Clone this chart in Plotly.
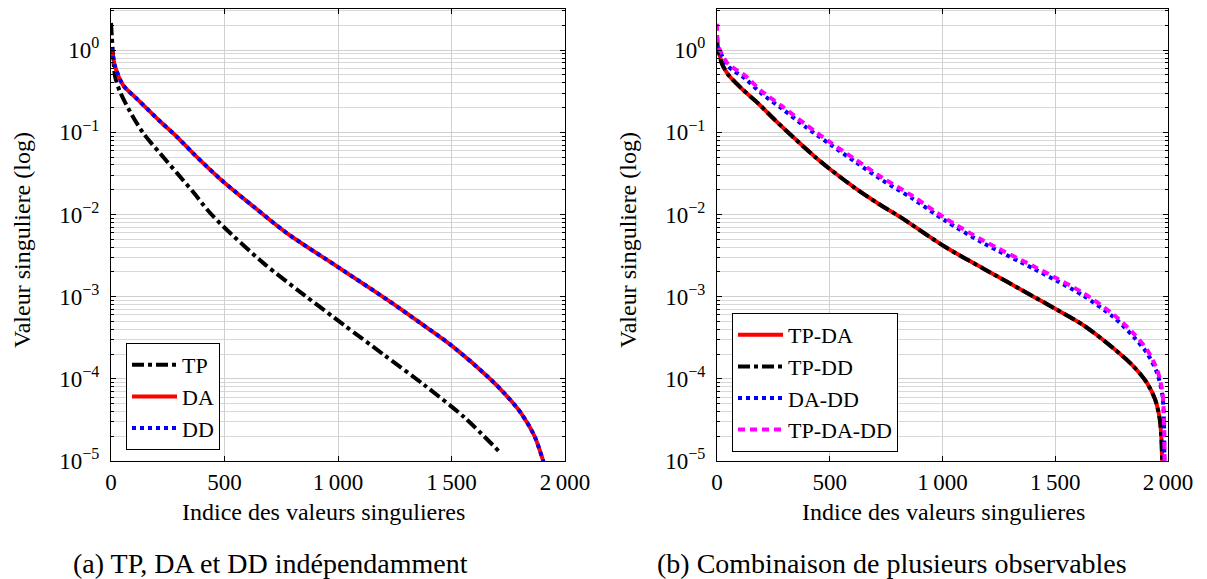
import plotly.graph_objects as go

# ---------------- data ----------------
# (a) individual observables
tp_x = [0, 4, 10, 18, 37, 84, 142, 217, 292, 363, 429, 496, 673, 850, 1026, 1203, 1380, 1557, 1719]
tp_y = [2.14, 1.41, 0.794, 0.479, 0.324, 0.178, 0.0977, 0.0550, 0.0316, 0.0186, 0.0110,
        0.00708, 0.00254, 0.00105, 0.000452, 0.000195, 8.41e-5, 3.39e-5, 1.23e-5]

da_x = [0, 7, 18, 54, 113, 217, 292, 363, 482, 629, 776, 1000, 1218, 1365, 1498, 1660,
        1734, 1807, 1866, 1903, 1915]
da_y = [1.05, 0.891, 0.631, 0.372, 0.257, 0.135, 0.0871, 0.0550, 0.0269, 0.0124, 0.00589,
        0.00229, 0.000912, 0.000473, 0.000257, 0.000106, 6.61e-5, 3.80e-5, 2.00e-5, 1.02e-5, 7.9e-6]

dd_x = [0, 7, 18, 54, 113, 217, 292, 363, 482, 629, 776, 1000, 1218, 1365, 1498, 1660,
        1734, 1807, 1866, 1903, 1915]
dd_y = [1.05, 0.891, 0.631, 0.372, 0.257, 0.135, 0.0871, 0.0550, 0.0269, 0.0124, 0.00589,
        0.00229, 0.000912, 0.000473, 0.000257, 0.000106, 6.61e-5, 3.80e-5, 2.00e-5, 1.02e-5, 7.9e-6]

# (b) combinations
tpda_x = [0, 9, 21, 50, 110, 183, 257, 346, 435, 506, 613, 716, 812, 1009, 1182, 1404,
          1508, 1626, 1759, 1848, 1908, 1944, 1964, 1971, 1975]
tpda_y = [1.07, 0.933, 0.692, 0.501, 0.339, 0.224, 0.141, 0.0832, 0.0501, 0.0347, 0.0209,
          0.0135, 0.00933, 0.00407, 0.00219, 0.00100, 0.000692, 0.000447, 0.000234,
          0.000141, 8.81e-5, 5.50e-5, 3.16e-5, 1.82e-5, 7.94e-6]

tpdd_x = [0, 4, 9, 21, 50, 110, 183, 257, 346, 435, 506, 613, 716, 812, 1009, 1182, 1404,
          1508, 1626, 1759, 1848, 1908, 1944, 1964, 1971, 1975]
tpdd_y = [1.51, 1.05, 0.933, 0.692, 0.501, 0.339, 0.224, 0.141, 0.0832, 0.0501, 0.0347,
          0.0209, 0.0135, 0.00933, 0.00407, 0.00219, 0.00100, 0.000692, 0.000447, 0.000234,
          0.000141, 8.81e-5, 5.50e-5, 3.16e-5, 1.82e-5, 7.94e-6]

dadd_x = [0, 13, 50, 124, 198, 287, 391, 506, 613, 731, 864, 1009, 1182, 1404, 1508, 1626,
          1759, 1848, 1908, 1952, 1974, 1981, 1984]
dadd_y = [1.12, 0.955, 0.631, 0.452, 0.295, 0.195, 0.117, 0.0698, 0.0437, 0.0263, 0.0158,
          0.00851, 0.00447, 0.00219, 0.00155, 0.00102, 0.000562, 0.000324, 0.000204,
          0.000117, 6.61e-5, 3.80e-5, 7.94e-6]

tpdadd_x = [0, 3, 13, 50, 124, 198, 287, 391, 506, 613, 731, 864, 1009, 1182, 1404, 1508,
            1626, 1759, 1848, 1908, 1952, 1974, 1981, 1985]
tpdadd_y = [2.09, 1.26, 1.0, 0.676, 0.490, 0.316, 0.209, 0.126, 0.0741, 0.0468, 0.0282,
            0.0170, 0.00912, 0.00479, 0.00234, 0.00166, 0.00110, 0.000603, 0.000355,
            0.000224, 0.000129, 7.24e-5, 4.17e-5, 7.94e-6]

x_tickvals = [0, 500, 1000, 1500, 2000]
x_ticktext = ["0", "500", "1\u2009000", "1\u2009500", "2\u2009000"]
y_tickvals = [1e-5, 1e-4, 1e-3, 1e-2, 1e-1, 1]
y_ticktext = ["10<sup>\u22125</sup>", "10<sup>\u22124</sup>", "10<sup>\u22123</sup>",
              "10<sup>\u22122</sup>", "10<sup>\u22121</sup>", "10<sup>0</sup>"]
y_minor = [k * d for d in [1e-5, 1e-4, 1e-3, 1e-2, 1e-1, 1] for k in range(2, 10)]

FONT = "Times New Roman, Liberation Serif, Tinos, DejaVu Serif, serif"
W, H = 1207, 579

fig = go.Figure()

def add(x, y, name, color, dash, xa, ya, legend):
    fig.add_trace(go.Scatter(x=x, y=y, mode="lines", name=name,
                             line=dict(color=color, width=4, dash=dash,
                                       shape="spline", smoothing=0.8),
                             xaxis=xa, yaxis=ya, legend=legend))

add(tp_x, tp_y, "TP", "black", "dashdot", "x", "y", "legend")
add(da_x, da_y, "DA", "red", "solid", "x", "y", "legend")
add(dd_x, dd_y, "DD", "blue", "dot", "x", "y", "legend")

add(tpda_x, tpda_y, "TP-DA", "red", "solid", "x2", "y2", "legend2")
add(tpdd_x, tpdd_y, "TP-DD", "black", "dashdot", "x2", "y2", "legend2")
add(dadd_x, dadd_y, "DA-DD", "blue", "dot", "x2", "y2", "legend2")
add(tpdadd_x, tpdadd_y, "TP-DA-DD", "magenta", "7px,5px", "x2", "y2", "legend2")

def px_x(p):
    return p / W

def px_y(p):
    return (H - p) / H

ydom = [px_y(461), px_y(9)]

xaxis_common = dict(range=[0, 2000], tickvals=x_tickvals, ticktext=x_ticktext,
                    showline=True, linecolor="black", linewidth=1, mirror="allticks",
                    ticks="inside", ticklen=5, tickcolor="black",
                    showgrid=True, gridcolor="#d0d0d0", gridwidth=1, zeroline=False,
                    tickfont=dict(family=FONT, size=23, color="black"))
yaxis_common = dict(type="log", range=[-5, 0.5], tickvals=y_tickvals, ticktext=y_ticktext,
                    showline=True, linecolor="black", linewidth=1, mirror="allticks",
                    ticks="inside", ticklen=5, tickcolor="black",
                    showgrid=True, gridcolor="#d0d0d0", gridwidth=1, zeroline=False,
                    minor=dict(tickmode="array", tickvals=y_minor, ticks="inside", ticklen=3,
                               tickcolor="black", showgrid=True, gridcolor="#d8d8d8", gridwidth=1),
                    tickfont=dict(family=FONT, size=23, color="black"),
                    ticklabelstandoff=6)

fig.update_layout(
    width=W, height=H,
    margin=dict(l=0, r=0, t=0, b=0, autoexpand=False),
    paper_bgcolor="white", plot_bgcolor="white",
    font=dict(family=FONT, color="black", size=22),
    xaxis=dict(domain=[px_x(111), px_x(565)], anchor="y", **xaxis_common),
    yaxis=dict(domain=ydom, anchor="x", **yaxis_common),
    xaxis2=dict(domain=[px_x(717), px_x(1168)], anchor="y2", **xaxis_common),
    yaxis2=dict(domain=ydom, anchor="x2", **yaxis_common),
    legend=dict(x=px_x(126), y=px_y(343), xanchor="left", yanchor="top",
                bordercolor="black", borderwidth=1, bgcolor="white",
                font=dict(family=FONT, size=22, color="black"), itemwidth=45),
    legend2=dict(x=px_x(732), y=px_y(313), xanchor="left", yanchor="top",
                 bordercolor="black", borderwidth=1, bgcolor="white",
                 font=dict(family=FONT, size=22, color="black"), itemwidth=45),
)

ann = [
    dict(text="Valeur singuliere (log)", x=px_x(22), y=px_y(240), textangle=-90, size=24),
    dict(text="Valeur singuliere (log)", x=px_x(628), y=px_y(240), textangle=-90, size=24),
    dict(text="Indice des valeurs singulieres", x=px_x(323), y=px_y(512), textangle=0, size=24),
    dict(text="Indice des valeurs singulieres", x=px_x(943), y=px_y(512), textangle=0, size=24),
    dict(text="(a) TP, DA et DD indépendamment", x=px_x(270), y=px_y(563), textangle=0, size=28),
    dict(text="(b) Combinaison de plusieurs observables", x=px_x(892), y=px_y(563), textangle=0, size=28),
]
for a in ann:
    fig.add_annotation(text=a["text"], x=a["x"], y=a["y"], xref="paper", yref="paper",
                       xanchor="center", yanchor="middle", showarrow=False,
                       textangle=a["textangle"],
                       font=dict(family=FONT, size=a["size"], color="black"))

fig.write_html("out.html",
               config={"displayModeBar": False},
               post_script="document.body.style.margin='0';document.body.style.overflow='hidden';")
